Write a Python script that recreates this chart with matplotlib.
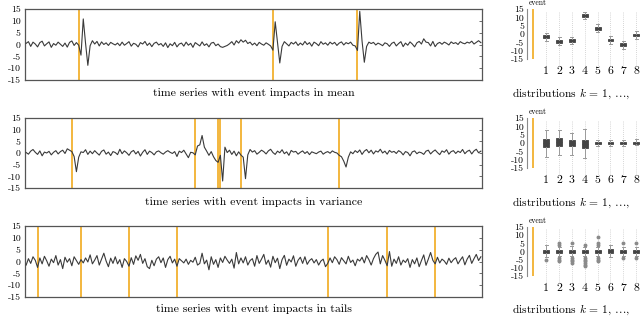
import matplotlib
matplotlib.use('Agg')
import matplotlib.pyplot as plt
import numpy as np

plt.rcParams['font.family'] = 'cmr10'
plt.rcParams['mathtext.fontset'] = 'cm'
plt.rcParams['axes.unicode_minus'] = False
plt.rcParams['axes.formatter.use_mathtext'] = True

# time series (200 steps each)
ts_mean = [
    0.5, 1.2, -0.8, 1.0, 0.2, -1.0, 0.8, 1.4, -0.6, 0.3,
    1.1, -1.2, 0.4, -0.3, 1.0, 0.1, -0.8, 0.6, -1.1, 0.9,
    1.5, -0.4, 0.8,
    -0.3, -4.5, 10.8, 0.5, -8.8, -0.5, 1.6,
    0.2, 1.3, -0.6, 1.1, 0.0, 0.7, -0.4, 0.9, 0.3, -0.2,
    0.6, -0.5, 1.0, -0.3, 0.4, 1.2, -0.7, 0.5, 0.1, -1.0,
    0.8, 0.2, 1.3, -0.4, 0.6, -0.9, 0.5, 1.0, -0.2, 0.4,
    -0.8, 0.7, -1.3, 0.3, -0.5, 0.9, -1.0, 0.2, 0.6, -0.7,
    1.0, -0.3, 0.5, -1.2, 0.8, 0.1, -0.6, 1.1, -0.4, 0.3,
    -1.0, 0.6, 0.9, -0.5, 0.2, -0.9, -1.2, -0.8, -0.4, 0.3,
    1.2, -0.2, 1.6, 0.6, 2.0, 1.0, 1.8, 0.4, 1.0, -0.2,
    0.6, -0.5, 0.9, 0.2, -0.3, 0.7, 0.1, -0.6,
    -2.4, 9.6, 0.8, -7.8, -0.8, 1.2, 0.3,
    -0.6, 0.9, 0.2, 1.1, -0.4, 0.6, -0.2, 1.3, 0.0, 0.8,
    -0.7, 1.0, 0.4, -0.5, 1.2, 0.1, 0.7, -0.3, 1.0, 0.2,
    0.9, -0.4, 0.6, 1.1, -0.2, 0.8, 0.3, 1.0, -0.3, -0.6,
    -2.5, 14.0, 1.5, -7.5, -0.8, 1.0, 0.4,
    0.9, -0.2, 0.6, 0.1, -0.5, 0.7, 0.3, -0.8, 0.5, 1.0,
    -0.6, 0.4, 1.2, -0.9, 0.6, -0.3, 1.1, 0.2, -1.0, 0.7,
    1.3, 0.2, 2.4, 1.0, 0.8, -0.6, 1.3, -0.9, 0.4, 0.9,
    0.1, 1.0, 0.5, -0.2, 1.1, 0.4, 0.8, 0.0, 1.2, 0.6,
    0.3, 1.0, 0.6, 1.4, 0.2, 0.9, 1.6, 0.8,
]
ts_var = [
    0.2, -0.5, 0.8, 1.5, 0.3, -0.6, 0.9, -1.2, 0.4, 0.0,
    0.7, -0.8, 0.3, 1.0, -0.4, 0.6, 1.2, -0.2,
    1.8, 1.2, 0.6, -1.5, -8.0, -1.8, 0.5,
    0.2, 1.4, -0.6, 0.8, -0.3, 1.0, 0.0, -0.9, 0.7, 1.3,
    -0.5, 0.4, -1.1, 0.6, 0.2, -0.7, 1.6, -0.3, 0.9, 0.1,
    -1.0, 0.5, 1.1, -0.4, 0.7, -1.3, 0.3, 1.4, -0.6, 0.8,
    0.2, -0.8, 0.5, 0.9, 0.1, -0.5, 0.4, 1.0, 0.3, -0.2,
    0.6, -1.5, 0.8, 0.2, 1.2, -0.4, -2.0, 0.3, 0.1,
    -0.8, 3.0, 3.5, 7.5, 2.5, 0.8, -1.0,
    0.6, -1.6, -3.2, -4.0, -1.0, -12.0, 2.5,
    0.2, 1.2, -0.6, 0.8, -1.2, 0.5, -0.9, -1.8, -11.0, -0.8, 1.5, 0.4,
    1.0, -0.5, 0.3, 1.2, 0.6, -0.4, 0.9, 1.6, 0.2, -0.6,
    0.8, 0.1, 1.4, -0.3, 0.5, -1.0, 1.1, 0.4, 0.7, -0.5,
    0.3, 0.9, -0.2, 0.6, -0.7, 0.5, 0.1, -0.3, 0.4, 0.8,
    -0.5, 0.2, 0.6, -0.1, 0.9, 0.3, 0.0,
    -1.0, -1.6, -3.5, -6.0, -1.8, 0.5,
    -0.3, 1.0, 0.2, 1.3, -0.6, 0.8, 1.5, 0.1, 1.2, -0.4,
    0.9, 0.4, 1.6, 0.0, 0.8, -0.5, 1.1, 0.3, 0.7, -0.2,
    1.0, 0.4, -0.8, 0.6, 0.2, -1.2, 0.5, 0.9, -0.3, 0.4,
    0.1, -0.6, 0.8, 1.2, -0.4, 0.6, 1.3, 0.2, -0.7, 0.9,
    0.3, 1.4, -0.5, 0.6, 1.0, -0.2, 0.8, 0.2, 1.5, -0.3,
    0.7, 1.2, -0.4, 0.9, 1.6, 0.1, 0.8,
]
ts_tails = [
    -1.5, 1.2, -0.8, 2.0, 0.5, -2.5, 1.5, -1.0, 2.2, 0.3,
    -2.0, 1.0, -0.5, 2.5, -1.5, 0.8, -3.0, 1.8, -0.3, 1.2,
    -1.8, 2.0, 0.4, -1.2, 0.8, -0.6, 1.5, -0.2, 2.8, -1.0,
    0.6, 2.5, -1.5, 1.0, 3.5, 0.2, -2.2, 1.4, -0.8, 2.0,
    -1.0, 0.8, -2.5, 1.2, 0.0, -2.0, 1.6, -1.2, 2.4, 0.5,
    3.0, -0.8, 1.2, -2.2, -3.0, 0.5, -1.8, 1.0, 2.0, -0.5,
    1.5, -2.5, 0.8, 2.2, -0.6, 1.0, -2.0, 1.2, 0.3, -0.6,
    1.0, -1.2, 0.5, -0.3, 1.8, -1.5, -0.8, 3.5, -1.0, 0.6,
    -3.5, 2.0, -1.2, 0.8, -2.5, 1.5, -0.4, 2.2, 0.6, -0.8,
    1.0, -2.8, 3.8, -1.0, 1.5, -0.6, 2.0, -1.5, 0.4, 1.2,
    -2.0, 2.5, -0.8, 1.0, 3.0, -1.2, 0.6, -2.4, 2.2, -0.5,
    1.4, -3.0, 0.8, 2.6, -1.6, 1.0, -0.2, 2.4, -2.0, 0.5,
    1.8, -0.8, 2.0, -1.2, 0.4, 1.2, -0.6, 0.8, -1.5, 0.2,
    1.0, -2.2, -0.8, 1.5, -0.5, 2.0, 0.8, -1.2, 1.6, 0.3,
    -1.0, 2.2, -0.4, 0.6, -1.8, 1.0, 0.2, 1.8, -0.6, 2.5,
    0.8, -1.5, 1.2, 3.0, 4.0, -1.0, 2.5, 0.5, -1.8, 4.2,
    -2.0, 1.0, -0.8, 2.0, -1.5, 0.6, -0.4, 1.2, -2.5, 0.8,
    -1.0, 1.5, -2.2, 0.4, 2.8, -1.6, 1.0, 3.8, 0.5, -1.0,
    1.8, -0.6, 1.0, 0.2, -1.2, 1.4, -0.5, 0.8, 1.6, -1.0,
    0.6, 2.0, -1.4, 1.0, 2.6, -0.8, 1.2, 3.0, 0.4, 2.0,
]

# event positions (time index)
events_mean = [23, 108, 145]
events_var = [20, 74, 84, 85, 94, 137]
events_tails = [5, 24, 45, 66, 132, 158, 179]

# box summaries for distributions k = 1..8
k_labels = ['1', '2', '3', '4', '5', '6', '7', '8']

mean_med = [-1.6, -4.4, -3.8, 11.0, 3.4, -3.6, -6.4, -0.6]
mean_q1 = [-2.4, -5.2, -4.6, 10.2, 2.6, -4.4, -7.2, -1.4]
mean_q3 = [-0.8, -3.6, -3.0, 11.8, 4.2, -2.8, -5.6, 0.2]
mean_lo = [-4.0, -6.8, -6.0, 8.8, 1.0, -6.0, -8.8, -3.0]
mean_hi = [0.8, -2.0, -1.6, 13.4, 5.8, -1.2, -4.0, 1.8]
mean_fl = [[], [], [], [], [], [], [], []]

var_med = [0.0, 0.5, -0.2, -0.5, 0.2, 0.0, 0.2, 0.2]
var_q1 = [-2.4, -1.8, -1.8, -3.0, -0.6, -0.7, -0.5, -0.5]
var_q3 = [2.6, 3.0, 1.6, 2.0, 0.8, 0.6, 0.8, 0.8]
var_lo = [-8.4, -7.4, -7.0, -9.0, -1.6, -1.8, -1.5, -1.4]
var_hi = [7.6, 8.0, 6.2, 8.2, 2.0, 1.8, 1.8, 2.4]
var_fl = [[], [], [], [], [], [], [], []]

tail_med = [0.0, 0.2, 0.0, 0.0, 0.2, 0.3, 0.0, 0.2]
tail_q1 = [-1.2, -0.8, -1.2, -1.0, -0.8, -1.0, -1.2, -0.8]
tail_q3 = [1.2, 0.8, 1.0, 0.8, 1.0, 1.5, 1.0, 1.2]
tail_lo = [-3.5, -3.0, -3.0, -3.0, -3.0, -3.5, -3.0, -3.0]
tail_hi = [4.0, 3.0, 3.5, 3.0, 3.0, 4.0, 3.0, 3.0]
tail_fl = [[-5.0], [5.0, 4.0, -4.0, -5.0, -6.0], [5.0, -4.0, -5.0, -6.0, -7.0],
           [4.0, -4.0, -5.0, -6.0, -7.0, -8.0, -9.0], [9.0, 5.0, 4.0, -4.0, -5.0, -6.0],
           [], [5.0, -4.0], [5.0, -4.0]]

yticks = [15, 10, 5, 0, -5, -10, -15]
ytick_labels = ['15', '10', '5', '0', '-5', '-10', '-15']

captions = ['time series with event impacts in mean',
            'time series with event impacts in variance',
            'time series with event impacts in tails']
# the reference cuts this caption off at the right edge of the figure
dist_caption = r'distributions $k\,=\,1,\,\ldots,$'

ORANGE = '#F0A30A'
LINE = '#3a3a3a'
FRAME = '#555555'

W, H = 640, 316
fig = plt.figure(figsize=(W / 100, H / 100), dpi=100)


def px_axes(x0, y0, x1, y1):
    return fig.add_axes([x0 / W, 1 - y1 / H, (x1 - x0) / W, (y1 - y0) / H])


rows = [
    (ts_mean, events_mean, (mean_med, mean_q1, mean_q3, mean_lo, mean_hi, mean_fl), (9, 80), (9, 59), 93),
    (ts_var, events_var, (var_med, var_q1, var_q3, var_lo, var_hi, var_fl), (118, 188), (118, 168), 202),
    (ts_tails, events_tails, (tail_med, tail_q1, tail_q3, tail_lo, tail_hi, tail_fl), (226, 297), (227, 276), 309),
]

for i, (series, events, box, (lt, lb), (rt, rb), cap_y) in enumerate(rows):
    # left: time series
    ax = px_axes(25, lt, 482, lb)
    x = np.arange(len(series))
    ax.plot(x, series, color=LINE, lw=0.8, zorder=3)
    for e in events:
        ax.axvline(e, color=ORANGE, lw=1.1, zorder=2)
    ax.set_xlim(-0.5, len(series) - 0.5)
    ax.set_ylim(-15, 15)
    ax.set_xticks([])
    ax.set_yticks(yticks)
    ax.set_yticklabels(ytick_labels, fontsize=7)
    ax.tick_params(axis='y', left=False, right=True, direction='in', length=2,
                   width=0.6, color=FRAME, pad=3)
    for s in ax.spines.values():
        s.set_color(FRAME)
        s.set_linewidth(0.9)
    fig.text(253.5 / W, 1 - cap_y / H, captions[i], ha='center', va='center', fontsize=8.5)

    # right: distributions
    ax2 = px_axes(527, rt, 640, rb)
    med, q1, q3, lo, hi, fl = box
    stats = [dict(med=med[j], q1=q1[j], q3=q3[j], whislo=lo[j], whishi=hi[j], fliers=fl[j])
             for j in range(len(med))]
    pos = np.arange(1, len(med) + 1)
    ax2.vlines(pos, -18.5, 13.5, colors='#c8c8c8', linestyles=(0, (1, 1.5)), lw=0.6,
               clip_on=False, zorder=0)
    ax2.bxp(stats, positions=pos, widths=0.45, patch_artist=True, showcaps=True,
            boxprops=dict(facecolor='#444444', edgecolor='#444444', lw=0.6),
            whiskerprops=dict(color='#9a9a9a', lw=0.7),
            capprops=dict(color='#9a9a9a', lw=0.7),
            medianprops=dict(color='#444444', lw=0.6),
            flierprops=dict(marker='o', ms=1.8, mfc='#8a8a8a', mec='#8a8a8a'))
    ax2.vlines(0, -15, 15, colors=ORANGE, lw=1.1)
    ax2.text(0.3, 18.5, 'event', ha='center', va='center', fontsize=5.5, clip_on=False)
    for p, lab in zip(pos, k_labels):
        ax2.text(p, -22.5, lab, ha='center', va='center', fontsize=8.5, clip_on=False)
    ax2.set_xlim(-0.5, 8.3)
    ax2.set_ylim(-15, 15)
    ax2.set_xticks([])
    ax2.set_yticks(yticks)
    ax2.set_yticklabels(ytick_labels, fontsize=7)
    ax2.tick_params(axis='y', length=0, pad=2)
    for side in ['top', 'right', 'bottom']:
        ax2.spines[side].set_visible(False)
    ax2.spines['left'].set_color('#8a8a8a')
    ax2.spines['left'].set_linewidth(0.8)
    fig.text(512 / W, 1 - (cap_y + 1) / H, dist_caption,
             ha='left', va='center', fontsize=8.3)

fig.savefig('out.png', dpi=100)
